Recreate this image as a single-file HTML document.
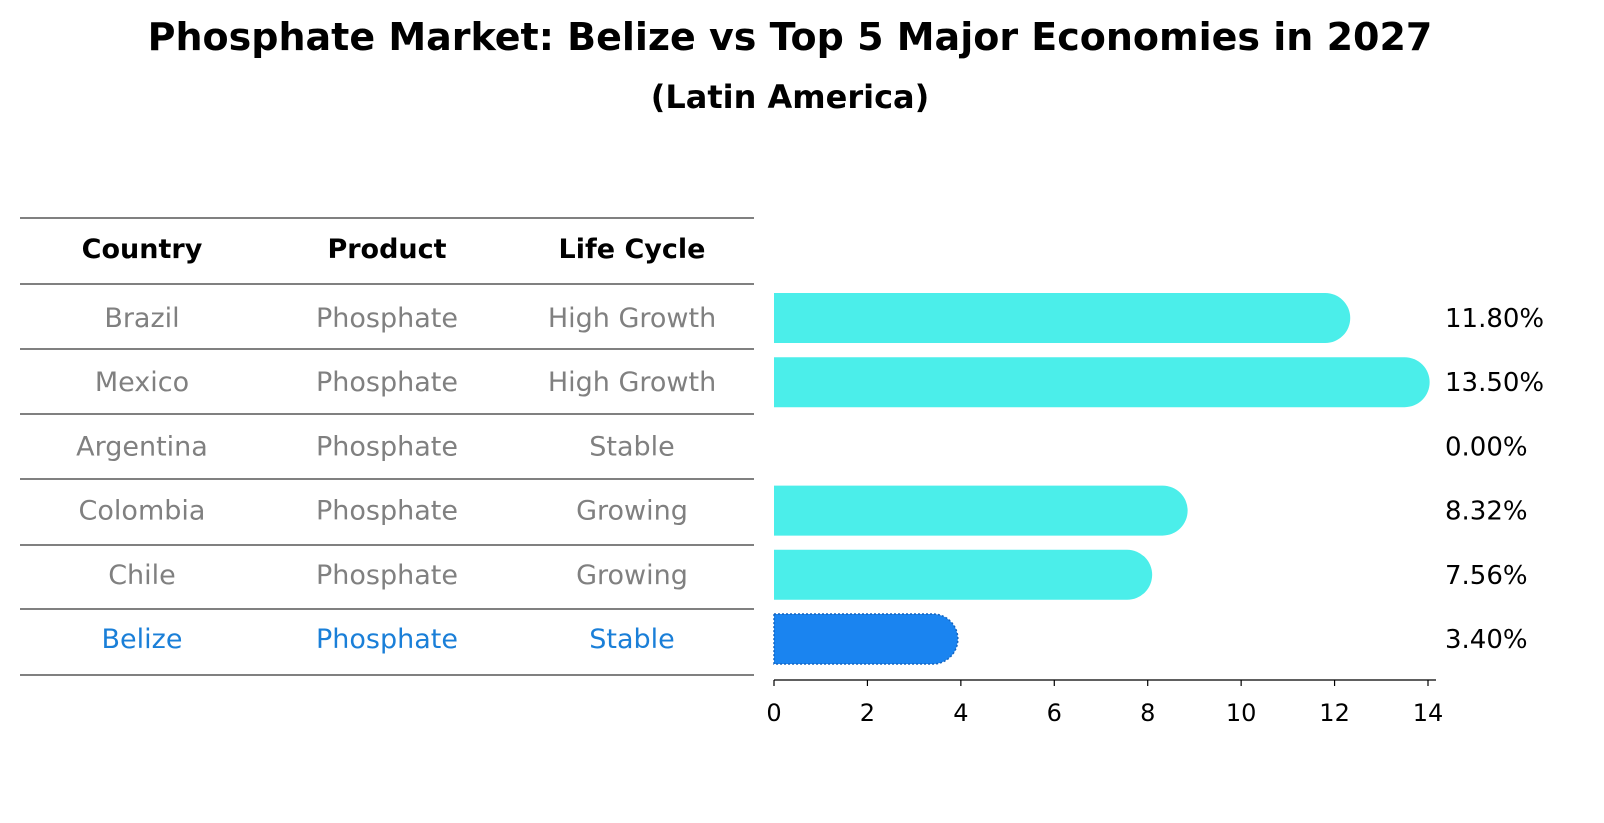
<!DOCTYPE html>
<html><head><meta charset="utf-8">
<style>
body{margin:0;background:#fff;font-family:"Liberation Sans","DejaVu Sans",sans-serif;}
#wrap{position:relative;width:1604px;height:823px;overflow:hidden;}
</style></head>
<body>
<div id="wrap">
<svg id="svg" width="1604" height="823" xmlns="http://www.w3.org/2000/svg">
<text x="790" y="50" text-anchor="middle" font-size="38" font-weight="bold" font-family="DejaVu Sans, sans-serif">Phosphate Market: Belize vs Top 5 Major Economies in 2027</text>
<text x="790" y="108" text-anchor="middle" font-size="32" font-weight="bold" font-family="DejaVu Sans, sans-serif">(Latin America)</text>
<g id="table"></g>
<g id="bars"></g>
</svg>
</div>
<script>
const countries=["Brazil","Mexico","Argentina","Colombia","Chile","Belize"];
const products=["Phosphate","Phosphate","Phosphate","Phosphate","Phosphate","Phosphate"];
const lifeCycles=["High Growth","High Growth","Stable","Growing","Growing","Stable"];
const values=[11.8,13.5,0,8.32,7.56,3.4];
const valueLabels=["11.80%","13.50%","0.00%","8.32%","7.56%","3.40%"];
const xTicks=[0,2,4,6,8,10,12,14];
const headers=["Country","Product","Life Cycle"];

const NS="http://www.w3.org/2000/svg";
function mk(tag,attrs,parent){const e=document.createElementNS(NS,tag);for(const k in attrs)e.setAttribute(k,attrs[k]);parent.appendChild(e);return e;}
const x0=774,x1=1428;
const xScale=v=>x0+(v/14)*(x1-x0);
const rowY=i=>318+i*64.2;
const font="DejaVu Sans, sans-serif";
const tbl=document.getElementById('table');
const colX=[142,387,632];
const lineYs=[218,284,349,414,479,545,609,675];
lineYs.forEach((y,i)=>{
  const l=mk('line',{x1:20,x2:754,y1:y,y2:y,stroke:'#000','stroke-width':1},tbl);
  
  
});
headers.forEach((h,j)=>{
  const t=mk('text',{x:colX[j],y:258,'text-anchor':'middle','font-size':27,'font-weight':'bold','font-family':font},tbl);
  t.textContent=h;
  
  
});
const bars=document.getElementById('bars');
countries.forEach((c,i)=>{
  const y=rowY(i);
  const isB=c==="Belize";
  const col=isB?'#1a7fd8':'#808080';
  [c,products[i],lifeCycles[i]].forEach((v,j)=>{
    const t=mk('text',{x:colX[j],y:y+9,'text-anchor':'middle','font-size':27,fill:col,'font-family':font},tbl);
    t.textContent=v;
    
    
  });
  const h=50,r=25;
  if(values[i]>0){
    const xe=xScale(values[i]);
    const d=`M${x0},${y-h/2} L${xe},${y-h/2} A${r},${r} 0 0 1 ${xe},${y+h/2} L${x0},${y+h/2} Z`;
    const p=mk('path',{d:d,fill:isB?'#1a84f0':'#4beeea',stroke:isB?'#1565c0':'none','stroke-width':isB?1.5:0,'stroke-dasharray':isB?'2,2':'none'},bars);
    
    
  }
  const t=mk('text',{x:1445,y:y+9,'font-size':26,'font-family':font},bars);
  t.textContent=valueLabels[i];
  
  
});
const ax=mk('line',{x1:x0,x2:1436,y1:680,y2:680,stroke:'#000','stroke-width':1.2},bars);


xTicks.forEach(v=>{
  const x=xScale(v);
  const tk=mk('line',{x1:x,x2:x,y1:680,y2:686,stroke:'#000','stroke-width':1.2},bars);
  
  
  const t=mk('text',{x:x,y:721,'text-anchor':'middle','font-size':24,'font-family':font},bars);
  t.textContent=v;
  
  
});
</script>
</body></html>
